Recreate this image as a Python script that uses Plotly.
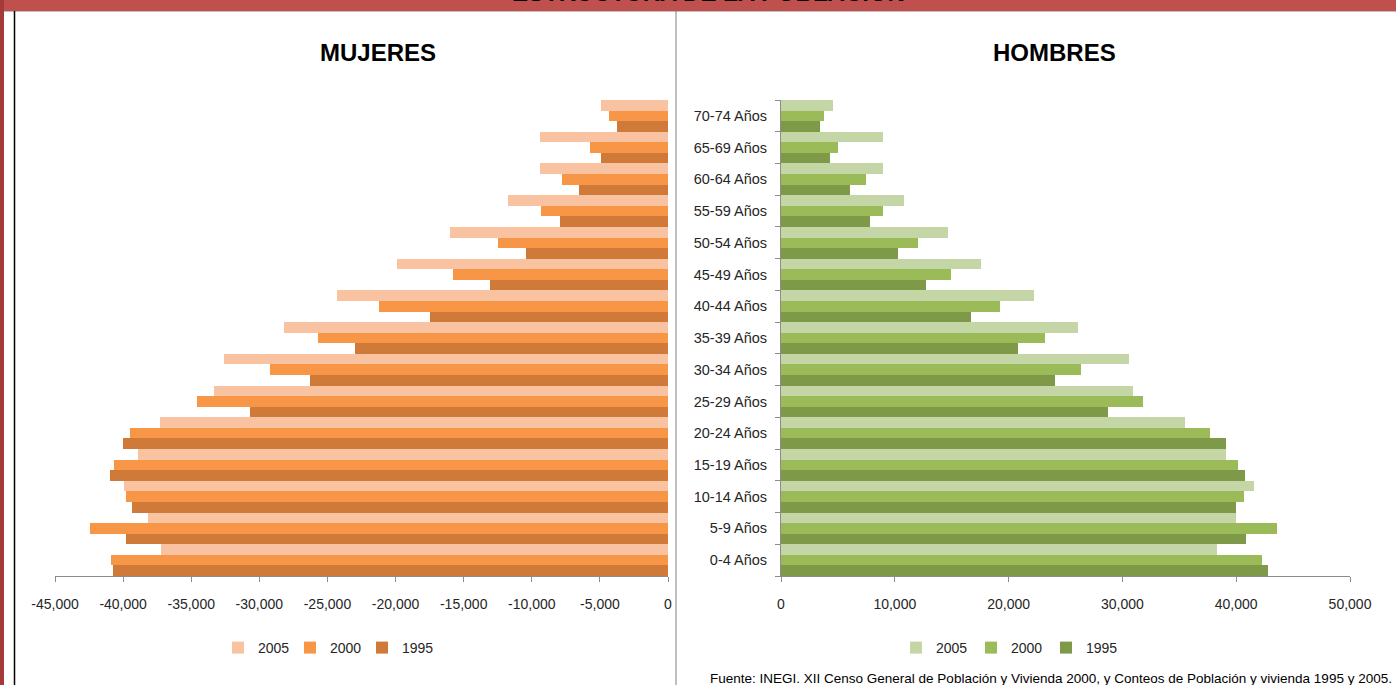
import plotly.graph_objects as go

W, H = 1396, 685

age_groups = ["0-4 Años", "5-9 Años", "10-14 Años", "15-19 Años", "20-24 Años",
              "25-29 Años", "30-34 Años", "35-39 Años", "40-44 Años", "45-49 Años",
              "50-54 Años", "55-59 Años", "60-64 Años", "65-69 Años", "70-74 Años"]

mujeres_2005 = [37200, 38200, 39900, 38900, 37300, 33300, 32600, 28200, 24300, 19900,
                16000, 11750, 9400, 9400, 4950]
mujeres_2000 = [40900, 42400, 39800, 40700, 39500, 34600, 29200, 25700, 21200, 15800,
                12500, 9300, 7800, 5700, 4300]
mujeres_1995 = [40750, 39800, 39350, 40950, 40000, 30700, 26300, 23000, 17500, 13050,
                10400, 7950, 6500, 4900, 3750]

hombres_2005 = [38300, 40000, 41600, 39100, 35500, 30900, 30600, 26100, 22200, 17600,
                14700, 10800, 9000, 9000, 4600]
hombres_2000 = [42300, 43600, 40650, 40200, 37700, 31800, 26400, 23200, 19200, 14900,
                12000, 9000, 7500, 5000, 3800]
hombres_1995 = [42800, 40900, 40000, 40800, 39100, 28700, 24100, 20800, 16700, 12700,
                10300, 7800, 6100, 4300, 3450]

years = ["1995", "2000", "2005"]

mujeres_ticks = [-45000, -40000, -35000, -30000, -25000, -20000, -15000, -10000, -5000, 0]
mujeres_ticktext = ["-45,000", "-40,000", "-35,000", "-30,000", "-25,000", "-20,000",
                    "-15,000", "-10,000", "-5,000", "0"]
hombres_ticks = [0, 10000, 20000, 30000, 40000, 50000]
hombres_ticktext = ["0", "10,000", "20,000", "30,000", "40,000", "50,000"]

col_m = {"2005": "#F9C3A1", "2000": "#F79646", "1995": "#CF7A38"}
col_h = {"2005": "#C4D6A6", "2000": "#9BBB59", "1995": "#7E9A48"}

FONT = "Liberation Sans, Arial, sans-serif"
TXT = "#262626"

def px(x):
    return x / W

def py(y):
    return 1 - y / H

fig = go.Figure()

muj = {"1995": mujeres_1995, "2000": mujeres_2000, "2005": mujeres_2005}
hom = {"1995": hombres_1995, "2000": hombres_2000, "2005": hombres_2005}

for yr in years:
    fig.add_trace(go.Bar(
        y=age_groups, x=[-v for v in muj[yr]], orientation="h", name=yr,
        marker=dict(color=col_m[yr], line=dict(width=0)),
        xaxis="x", yaxis="y", legend="legend"))
for yr in years:
    fig.add_trace(go.Bar(
        y=age_groups, x=hom[yr], orientation="h", name=yr,
        marker=dict(color=col_h[yr], line=dict(width=0)),
        xaxis="x2", yaxis="y2", legend="legend2"))

plot_top, plot_bot = 100, 576
ydom = [py(plot_bot), py(plot_top)]
axcol = "#8C8C8C"

fig.update_layout(
    template="none",
    width=W, height=H,
    margin=dict(l=0, r=0, t=0, b=0, pad=0, autoexpand=False),
    paper_bgcolor="white", plot_bgcolor="white",
    barmode="group", bargap=0, bargroupgap=0,
    font=dict(family=FONT, size=14, color=TXT),
    xaxis=dict(domain=[px(55), px(668)], range=[-45000, 0], anchor="y", automargin=False,
               tickvals=mujeres_ticks, ticktext=mujeres_ticktext,
               showline=True, linecolor=axcol, linewidth=1,
               ticks="outside", ticklen=5, tickcolor=axcol, ticklabelstandoff=10,
               showgrid=False, zeroline=False,
               tickfont=dict(family=FONT, size=14, color=TXT)),
    yaxis=dict(domain=ydom, anchor="x", type="category", range=[-0.5, 14.5], automargin=False,
               showticklabels=False, showline=False, showgrid=False, zeroline=False, ticks=""),
    xaxis2=dict(domain=[px(781), px(1350)], range=[0, 50000], anchor="y2", automargin=False,
                tickvals=hombres_ticks, ticktext=hombres_ticktext,
                showline=True, linecolor=axcol, linewidth=1,
                ticks="outside", ticklen=5, tickcolor=axcol, ticklabelstandoff=10,
                showgrid=False, zeroline=False,
                tickfont=dict(family=FONT, size=14, color=TXT)),
    yaxis2=dict(domain=ydom, anchor="x2", type="category", range=[-0.5, 14.5], automargin=False,
                showline=True, linecolor=axcol, linewidth=1,
                ticks="outside", ticklen=5, tickcolor=axcol, tickson="boundaries",
                ticklabelstandoff=10,
                showgrid=False, zeroline=False,
                tickfont=dict(family=FONT, size=14.5, color=TXT)),
    legend=dict(orientation="h", x=px(218), xanchor="left", y=py(648), yanchor="middle",
                traceorder="reversed", itemwidth=30, entrywidth=27, entrywidthmode="pixels",
                font=dict(family=FONT, size=14, color=TXT), bgcolor="rgba(0,0,0,0)"),
    legend2=dict(orientation="h", x=px(896), xanchor="left", y=py(648), yanchor="middle",
                 traceorder="reversed", itemwidth=30, entrywidth=30, entrywidthmode="pixels",
                 font=dict(family=FONT, size=14, color=TXT), bgcolor="rgba(0,0,0,0)"),
    showlegend=True,
)

shapes = [
    dict(type="rect", xref="paper", yref="paper", x0=0, x1=1, y0=py(11), y1=1,
         fillcolor="#C0504D", line=dict(width=0), layer="below"),
    dict(type="line", xref="paper", yref="paper", x0=0, x1=1, y0=py(11.5), y1=py(11.5),
         line=dict(color="#BFBFBF", width=1)),
    dict(type="rect", xref="paper", yref="paper", x0=0, x1=px(4), y0=0, y1=1,
         fillcolor="#A33B3B", line=dict(width=0), layer="above"),
    dict(type="line", xref="paper", yref="paper", x0=px(14.5), x1=px(14.5), y0=0, y1=py(11),
         line=dict(color="#000000", width=1.5)),
    dict(type="line", xref="paper", yref="paper", x0=px(676), x1=px(676), y0=0, y1=py(11),
         line=dict(color="#808080", width=1)),
]
fig.update_layout(shapes=shapes)

annotations = [
    dict(text="<b>ESTRUCTURA DE LA POBLACIÓN</b>", xref="paper", yref="paper",
         x=px(708), y=py(8), xanchor="center", yanchor="bottom", showarrow=False,
         font=dict(family=FONT, size=24, color="#000000")),
    dict(text="<b>MUJERES</b>", xref="paper", yref="paper", x=px(378), y=py(52),
         xanchor="center", yanchor="middle", showarrow=False,
         font=dict(family=FONT, size=24, color="#000000")),
    dict(text="<b>HOMBRES</b>", xref="paper", yref="paper", x=px(1054), y=py(52),
         xanchor="center", yanchor="middle", showarrow=False,
         font=dict(family=FONT, size=24, color="#000000")),
    dict(text="Fuente: INEGI. XII Censo General de Población y Vivienda 2000, y Conteos de Población y vivienda 1995 y 2005.",
         xref="paper", yref="paper", x=px(1394), y=py(678), xanchor="right", yanchor="middle",
         showarrow=False, font=dict(family="Liberation Sans Narrow, " + FONT, size=13.5, color="#000000")),
]
fig.update_layout(annotations=annotations)

fig.write_html("out.html", config={"displayModeBar": False},
               post_script="document.body.style.margin='0';document.body.style.overflow='hidden';")
